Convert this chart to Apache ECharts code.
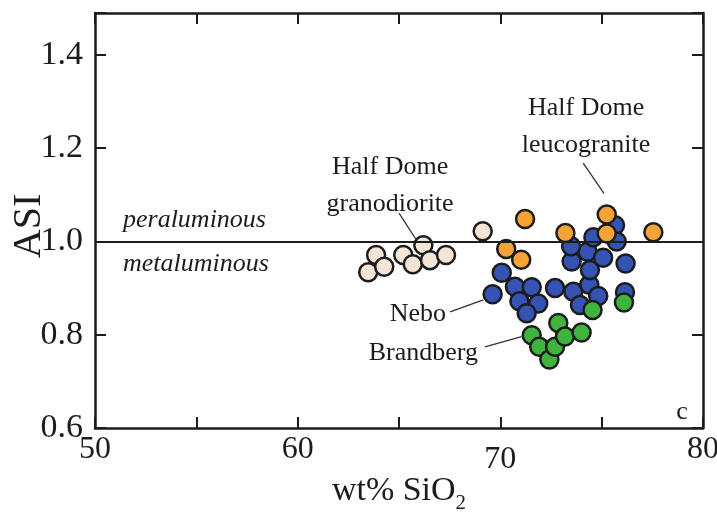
<!DOCTYPE html>
<html>
<head>
<meta charset="utf-8">
<script src="https://cdn.jsdelivr.net/npm/echarts@6/dist/echarts.min.js"></script>
<style>
  html, body { margin: 0; padding: 0; background: #fff; }
  #chart { width: 717px; height: 513px; }
</style>
</head>
<body>
<div id="chart"></div>
<script>
// Half Dome granodiorite
const granodioriteSiO2 = [63.87, 63.48, 64.27, 65.21, 65.68, 66.20, 66.53, 67.32, 69.13];
const granodioriteASI  = [0.971, 0.934, 0.946, 0.971, 0.951, 0.992, 0.960, 0.971, 1.022];

// Half Dome leucogranite
const leucograniteSiO2 = [71.22, 70.29, 71.03, 73.21, 75.25, 75.25, 77.55];
const leucograniteASI  = [1.048, 0.984, 0.961, 1.018, 1.058, 1.017, 1.020];

// Nebo
const neboSiO2 = [69.62, 70.07, 70.72, 71.55, 70.94, 71.87, 71.30, 72.70, 73.60, 73.93, 74.39,
                  74.83, 73.52, 74.42, 74.30, 73.49, 74.59, 75.07, 75.66, 75.74, 76.18, 76.15];
const neboASI  = [0.887, 0.933, 0.903, 0.902, 0.872, 0.867, 0.846, 0.900, 0.892, 0.864, 0.907,
                  0.883, 0.957, 0.939, 0.978, 0.990, 1.009, 0.965, 1.035, 1.000, 0.953, 0.891];

// Brandberg
const brandbergSiO2 = [71.55, 71.92, 72.42, 72.70, 72.86, 73.19, 74.01, 74.55, 76.10];
const brandbergASI  = [0.799, 0.774, 0.747, 0.774, 0.825, 0.796, 0.805, 0.853, 0.869];

// Axis ticks
const xTickLabels = [50, 60, 70, 80];
const yTickLabels = ['0.6', '0.8', '1.0', '1.2', '1.4'];

const FONT = '"Liberation Serif", "DejaVu Serif", serif';
const INK = '#1c1c1c';

const pairs = (xs, ys) => xs.map((x, i) => [x, ys[i]]);

const chart = echarts.init(document.getElementById('chart'), null, { renderer: 'canvas' });

const dot = (name, color, xs, ys, z) => ({
  name, type: 'scatter', data: pairs(xs, ys), z,
  symbol: 'circle', symbolSize: 18,
  itemStyle: { color, borderColor: INK, borderWidth: 2.5, opacity: 1 },
  emphasis: { disabled: true }
});

// Annotation texts and leader lines, in data coordinates
const notes = [
  { text: 'peraluminous', at: [51.38, 1.045], align: 'left', italic: true },
  { text: 'metaluminous', at: [51.38, 0.952], align: 'left', italic: true },
  { text: 'Half Dome\ngranodiorite', at: [64.56, 1.120], align: 'center' },
  { text: 'Half Dome\nleucogranite', at: [74.23, 1.246], align: 'center' },
  { text: 'Nebo', at: [67.32, 0.845], align: 'right' },
  { text: 'Brandberg', at: [68.90, 0.761], align: 'right' },
  { text: 'c', at: [78.96, 0.634], align: 'center' }
];
const leaders = [
  [[65.00, 1.061], [65.89, 1.001]],
  [[74.09, 1.168], [75.11, 1.103]],
  [[67.52, 0.849], [69.16, 0.875]],
  [[69.24, 0.774], [71.05, 0.796]]
];

const axisLineStyle = { color: INK, width: 2.5 };
const tickStyle = { show: true, inside: true, length: 11, lineStyle: { color: INK, width: 2 } };

chart.setOption({
  backgroundColor: '#ffffff',
  animation: false,
  grid: { left: 95, right: 14, top: 13, bottom: 85, containLabel: false, outerBoundsMode: 'none' },
  xAxis: [{
    type: 'value', min: 50, max: 80, interval: 5, position: 'bottom',
    axisLine: { show: true, onZero: false, lineStyle: axisLineStyle },
    axisTick: tickStyle,
    splitLine: { show: false },
    axisLabel: {
      margin: 6, color: INK, fontFamily: FONT, fontSize: 32,
      formatter: v => xTickLabels.includes(v) ? (v === 70 ? '{low|' + v + '}' : '{std|' + v + '}') : '',
      rich: {
        std: { fontFamily: FONT, fontSize: 32, color: INK },
        low: { fontFamily: FONT, fontSize: 32, color: INK, padding: [10, 0, 0, 0] }
      }
    },
    name: '{a|wt% SiO}{s|2}', nameLocation: 'middle', nameGap: 40, nameMoveOverlap: false,
    nameTextStyle: {
      rich: {
        a: { fontFamily: FONT, fontSize: 34, color: INK, lineHeight: 46, verticalAlign: 'middle' },
        s: { fontFamily: FONT, fontSize: 21, color: INK, lineHeight: 46, verticalAlign: 'bottom' }
      }
    }
  }, {
    type: 'value', min: 50, max: 80, interval: 5, position: 'top',
    axisLine: { show: true, onZero: false, lineStyle: axisLineStyle },
    axisTick: tickStyle,
    axisLabel: { show: false }, splitLine: { show: false }
  }],
  yAxis: [{
    type: 'value', min: 0.6, max: 1.49, interval: 0.2, position: 'left',
    axisLine: { show: true, onZero: false, lineStyle: axisLineStyle },
    axisTick: tickStyle,
    splitLine: { show: false },
    axisLabel: {
      margin: 12, color: INK, fontFamily: FONT, fontSize: 34,
      formatter: v => {
        const s = v.toFixed(1);
        return (v < 1.45 && yTickLabels.includes(s)) ? s : '';
      }
    },
    name: 'ASI', nameLocation: 'middle', nameGap: 46, nameRotate: 90, nameMoveOverlap: false,
    nameTextStyle: { fontFamily: FONT, fontSize: 40, color: INK, padding: [0, 11, 0, 0] }
  }, {
    type: 'value', min: 0.6, max: 1.49, interval: 0.2, position: 'right',
    axisLine: { show: true, onZero: false, lineStyle: axisLineStyle },
    axisTick: tickStyle,
    axisLabel: { show: false }, splitLine: { show: false }
  }],
  series: [
    {
      type: 'line', data: [], silent: true, z: 1,
      markLine: {
        silent: true, symbol: 'none', animation: false,
        label: { show: false },
        lineStyle: { color: INK, width: 2.2, type: 'solid' },
        emphasis: { disabled: true },
        data: [{ yAxis: 1.0 }].concat(leaders.map(seg => [
          { coord: seg[0], lineStyle: { width: 1.3, color: '#333' } },
          { coord: seg[1] }
        ]))
      }
    },
    dot('Nebo', '#3453b3', neboSiO2, neboASI, 2),
    dot('Brandberg', '#3fb43d', brandbergSiO2, brandbergASI, 3),
    dot('Half Dome leucogranite', '#f6a336', leucograniteSiO2, leucograniteASI, 4),
    dot('Half Dome granodiorite', '#f4e6d6', granodioriteSiO2, granodioriteASI, 4)
  ]
});

// Place annotation texts using the chart's own coordinate conversion
const graphics = notes.map(n => {
  const p = chart.convertToPixel({ xAxisIndex: 0, yAxisIndex: 0 }, n.at);
  return {
    type: 'text', x: p[0], y: p[1], z: 10, silent: true,
    style: {
      text: n.text, fill: INK,
      font: (n.italic ? 'italic ' : '') + '26px ' + FONT,
      lineHeight: 37,
      align: n.align, verticalAlign: 'middle'
    }
  };
});
chart.setOption({ graphic: graphics });
</script>
</body>
</html>
